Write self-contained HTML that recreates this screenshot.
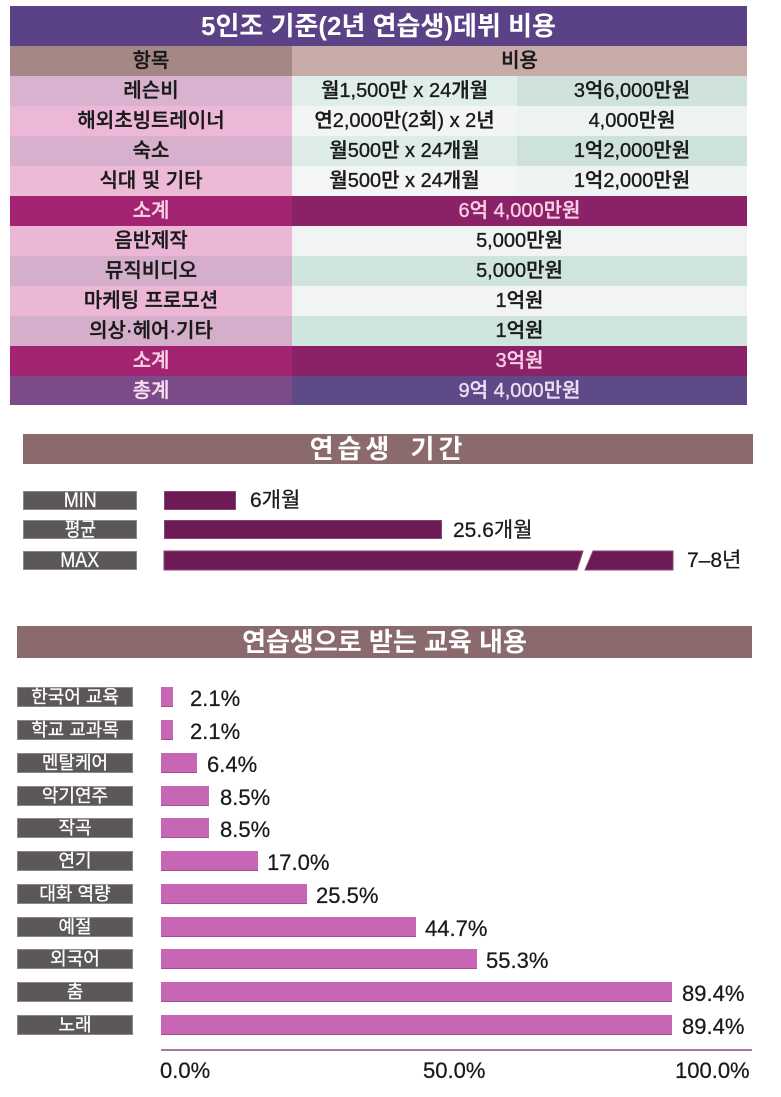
<!DOCTYPE html>
<html>
<head>
<meta charset="utf-8">
<style>
  html,body{margin:0;padding:0;background:#ffffff;}
  body{width:781px;height:1097px;position:relative;overflow:hidden;
    font-family:"Liberation Sans","Noto Sans CJK KR",sans-serif;}
  .c{position:absolute;display:flex;align-items:center;justify-content:center;
    line-height:1;white-space:nowrap;color:#1a1a1a;font-size:20px;font-weight:500;
    -webkit-text-stroke:0.35px currentColor;}
  .w{color:#ffffff;font-weight:bold;-webkit-text-stroke:0;}
  .sub{color:#f7cfe4;}
  .tot{color:#f1ddf1;}
  .lab{position:absolute;background:#5c5858;color:#fff;display:flex;align-items:center;
    justify-content:center;line-height:1;white-space:nowrap;box-shadow:0 0 0 1px #8c8888 inset;
    -webkit-text-stroke:0.3px #fff;}
  .bar2{position:absolute;background:#6d1b55;box-shadow:0 0 0 1px #8a4478 inset;}
  .bar3{position:absolute;background:#c766b4;box-shadow:0 -1px 0 0 #a04f92 inset;}
  .t{position:absolute;line-height:1;white-space:nowrap;color:#1a1a1a;-webkit-text-stroke:0.25px #1a1a1a;}
</style>
</head>
<body>

<!-- ===== TABLE ===== -->
<div class="c w" style="left:10px;top:6px;width:737px;height:40px;background:#5b4287;font-size:26px;">5인조 기준(2년 연습생)데뷔 비용</div>

<div class="c" style="left:10px;top:46px;width:282px;height:30px;background:#a58785;">항목</div>
<div class="c" style="left:292px;top:46px;width:455px;height:30px;background:#c8aaa7;">비용</div>

<!-- row 1 -->
<div class="c" style="left:10px;top:76px;width:282px;height:30px;background:#d8b2cf;">레슨비</div>
<div class="c" style="left:292px;top:76px;width:225px;height:30px;background:#e0eeea;">월1,500만 x 24개월</div>
<div class="c" style="left:517px;top:76px;width:230px;height:30px;background:#cfe2de;">3억6,000만원</div>
<!-- row 2 -->
<div class="c" style="left:10px;top:106px;width:282px;height:30px;background:#edb8d7;">해외초빙트레이너</div>
<div class="c" style="left:292px;top:106px;width:225px;height:30px;background:#f2f5f4;">연2,000만(2회) x 2년</div>
<div class="c" style="left:517px;top:106px;width:230px;height:30px;background:#eef3f1;">4,000만원</div>
<!-- row 3 -->
<div class="c" style="left:10px;top:136px;width:282px;height:30px;background:#d6b0cd;">숙소</div>
<div class="c" style="left:292px;top:136px;width:225px;height:30px;background:#deece8;">월500만 x 24개월</div>
<div class="c" style="left:517px;top:136px;width:230px;height:30px;background:#cde1dd;">1억2,000만원</div>
<!-- row 4 -->
<div class="c" style="left:10px;top:166px;width:282px;height:30px;background:#ecb9d6;">식대 및 기타</div>
<div class="c" style="left:292px;top:166px;width:225px;height:30px;background:#f3f6f5;">월500만 x 24개월</div>
<div class="c" style="left:517px;top:166px;width:230px;height:30px;background:#eff3f2;">1억2,000만원</div>
<!-- subtotal 1 -->
<div class="c sub" style="left:10px;top:196px;width:282px;height:30px;background:#a2236f;">소계</div>
<div class="c sub" style="left:292px;top:196px;width:455px;height:30px;background:#8b2167;">6억 4,000만원</div>
<!-- lower rows -->
<div class="c" style="left:10px;top:226px;width:282px;height:30px;background:#ecb6d6;">음반제작</div>
<div class="c" style="left:292px;top:226px;width:455px;height:30px;background:#f1f4f3;">5,000만원</div>
<div class="c" style="left:10px;top:256px;width:282px;height:30px;background:#d4aecb;">뮤직비디오</div>
<div class="c" style="left:292px;top:256px;width:455px;height:30px;background:#cfe4df;">5,000만원</div>
<div class="c" style="left:10px;top:286px;width:282px;height:30px;background:#ecb6d6;">마케팅 프로모션</div>
<div class="c" style="left:292px;top:286px;width:455px;height:30px;background:#f1f4f3;">1억원</div>
<div class="c" style="left:10px;top:316px;width:282px;height:30px;background:#d4aecb;">의상·헤어·기타</div>
<div class="c" style="left:292px;top:316px;width:455px;height:30px;background:#cfe4df;">1억원</div>
<!-- subtotal 2 -->
<div class="c sub" style="left:10px;top:346px;width:282px;height:30px;background:#a2236f;">소계</div>
<div class="c sub" style="left:292px;top:346px;width:455px;height:30px;background:#8b2167;">3억원</div>
<!-- total -->
<div class="c tot" style="left:10px;top:376px;width:282px;height:29px;background:#7c4a88;">총계</div>
<div class="c tot" style="left:292px;top:376px;width:455px;height:29px;background:#5d4a87;">9억 4,000만원</div>

<!-- ===== SECTION 2 ===== -->
<div class="c w" style="left:23px;top:434px;width:730px;height:30px;background:#8b6a6c;font-size:26px;letter-spacing:4px;word-spacing:6px;">연습생 기간</div>

<div class="lab" style="left:23px;top:491px;width:114px;height:19px;font-size:21px;"><span style="display:inline-block;transform:scaleX(0.85);">MIN</span></div>
<div class="lab" style="left:23px;top:520px;width:114px;height:19px;font-size:20px;"><span style="display:inline-block;transform:scaleX(0.85);">평균</span></div>
<div class="lab" style="left:23px;top:551px;width:114px;height:19px;font-size:21px;"><span style="display:inline-block;transform:scaleX(0.85);">MAX</span></div>

<div class="bar2" style="left:164px;top:491px;width:72px;height:19px;"></div>
<div class="t" style="left:250px;top:490px;font-size:21px;">6개월</div>

<div class="bar2" style="left:164px;top:520px;width:278px;height:19px;"></div>
<div class="t" style="left:453px;top:520px;font-size:21px;">25.6개월</div>

<svg style="position:absolute;left:0;top:0;" width="781" height="1097">
  <polygon points="164,551 583,551 577,570 164,570" fill="#6d1b55" stroke="#8a4478" stroke-width="1"/>
  <polygon points="593,551 673,551 673,570 585,570" fill="#6d1b55" stroke="#8a4478" stroke-width="1"/>
</svg>
<div class="t" style="left:687px;top:550px;font-size:21px;">7–8년</div>

<!-- ===== SECTION 3 ===== -->
<div class="c w" style="left:17px;top:626px;width:735px;height:32px;background:#8a6a6c;font-size:26px;">연습생으로 받는 교육 내용</div>

<!-- labels -->
<div class="lab" style="left:17px;top:687px;width:116px;height:20px;font-size:18px;">한국어 교육</div>
<div class="lab" style="left:17px;top:720px;width:116px;height:20px;font-size:18px;">학교 교과목</div>
<div class="lab" style="left:17px;top:753px;width:116px;height:20px;font-size:18px;">멘탈케어</div>
<div class="lab" style="left:17px;top:786px;width:116px;height:20px;font-size:18px;">악기연주</div>
<div class="lab" style="left:17px;top:818px;width:116px;height:20px;font-size:18px;">작곡</div>
<div class="lab" style="left:17px;top:851px;width:116px;height:20px;font-size:18px;">연기</div>
<div class="lab" style="left:17px;top:884px;width:116px;height:20px;font-size:18px;">대화 역량</div>
<div class="lab" style="left:17px;top:917px;width:116px;height:20px;font-size:18px;">예절</div>
<div class="lab" style="left:17px;top:949px;width:116px;height:20px;font-size:18px;">외국어</div>
<div class="lab" style="left:17px;top:982px;width:116px;height:20px;font-size:18px;">춤</div>
<div class="lab" style="left:17px;top:1015px;width:116px;height:20px;font-size:18px;">노래</div>

<!-- bars -->
<div class="bar3" style="left:161px;top:687px;width:12px;height:20px;"></div>
<div class="t" style="left:190px;top:688px;font-size:22px;">2.1%</div>
<div class="bar3" style="left:161px;top:720px;width:12px;height:20px;"></div>
<div class="t" style="left:190px;top:721px;font-size:22px;">2.1%</div>
<div class="bar3" style="left:161px;top:753px;width:36px;height:20px;"></div>
<div class="t" style="left:207px;top:754px;font-size:22px;">6.4%</div>
<div class="bar3" style="left:161px;top:786px;width:48px;height:20px;"></div>
<div class="t" style="left:220px;top:787px;font-size:22px;">8.5%</div>
<div class="bar3" style="left:161px;top:818px;width:48px;height:20px;"></div>
<div class="t" style="left:220px;top:819px;font-size:22px;">8.5%</div>
<div class="bar3" style="left:161px;top:851px;width:97px;height:20px;"></div>
<div class="t" style="left:267px;top:852px;font-size:22px;">17.0%</div>
<div class="bar3" style="left:161px;top:884px;width:146px;height:20px;"></div>
<div class="t" style="left:316px;top:885px;font-size:22px;">25.5%</div>
<div class="bar3" style="left:161px;top:917px;width:255px;height:20px;"></div>
<div class="t" style="left:425px;top:918px;font-size:22px;">44.7%</div>
<div class="bar3" style="left:161px;top:949px;width:316px;height:20px;"></div>
<div class="t" style="left:486px;top:950px;font-size:22px;">55.3%</div>
<div class="bar3" style="left:161px;top:982px;width:511px;height:20px;"></div>
<div class="t" style="left:682px;top:983px;font-size:22px;">89.4%</div>
<div class="bar3" style="left:161px;top:1015px;width:511px;height:20px;"></div>
<div class="t" style="left:682px;top:1016px;font-size:22px;">89.4%</div>

<!-- axis -->
<div style="position:absolute;left:161px;top:1049px;width:591px;height:2px;background:#a57aa2;"></div>
<div class="t" style="left:160px;top:1060px;font-size:22px;">0.0%</div>
<div class="t" style="left:423px;top:1060px;font-size:22px;">50.0%</div>
<div class="t" style="left:675px;top:1060px;font-size:22px;">100.0%</div>

</body>
</html>
